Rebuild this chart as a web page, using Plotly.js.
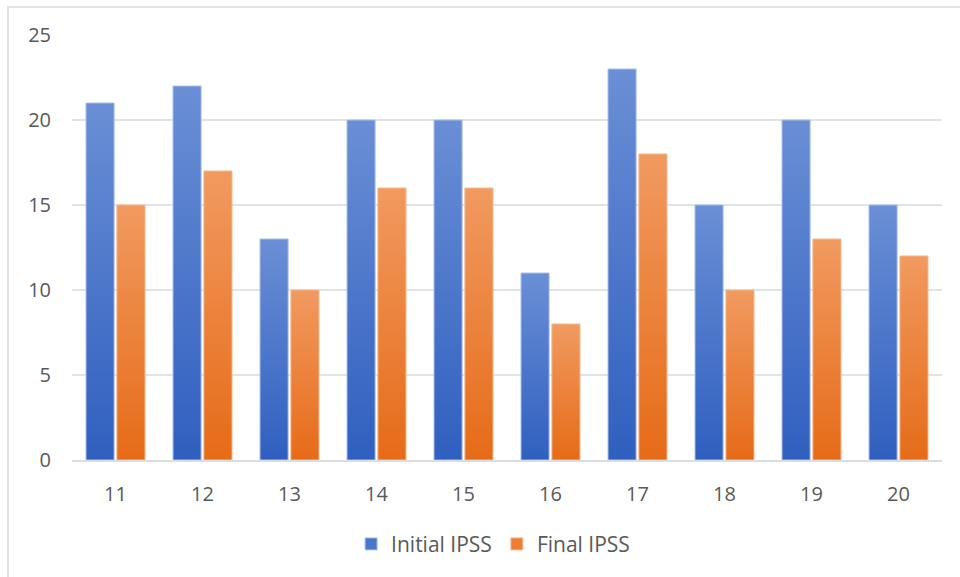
<!DOCTYPE html>
<html>
<head>
<meta charset="utf-8">
<script src="https://cdn.plot.ly/plotly-3.0.1.min.js"></script>
<style>
  html, body { margin: 0; padding: 0; background: #ffffff; }
  #frame { position: absolute; left: 7px; top: 6px; width: 953px; height: 571px;
           border-left: 2px solid #dfe3ea; border-top: 2px solid #dfe3ea; box-sizing: border-box; }
  #chart { position: absolute; left: 0; top: 0; width: 960px; height: 577px; }
</style>
</head>
<body>
<div id="frame"></div>
<div id="chart"></div>
<script>
const categories = ["11", "12", "13", "14", "15", "16", "17", "18", "19", "20"];
const initialIPSS = [21, 22, 13, 20, 20, 11, 23, 15, 20, 15];
const finalIPSS = [15, 17, 10, 16, 16, 8, 18, 10, 13, 12];

const traces = [
  { type: "bar", name: "Initial IPSS", x: categories, y: initialIPSS,
    marker: { color: "#4a77c9", line: { color: "#a9c0ea", width: 1 } }, hoverinfo: "y" },
  { type: "bar", name: "Final IPSS", x: categories, y: finalIPSS,
    marker: { color: "#ec7f35", line: { color: "#f7b98c", width: 1 } }, hoverinfo: "y" }
];

const font = { family: "Open Sans, Noto Sans, sans-serif", size: 20, color: "#595959" };
const legendFont = { family: "Open Sans, Noto Sans, sans-serif", size: 21, color: "#595959" };

const layout = {
  width: 960, height: 577,
  paper_bgcolor: "rgba(0,0,0,0)", plot_bgcolor: "rgba(0,0,0,0)",
  margin: { l: 72, r: 18, t: 35, b: 117 },
  font: font,
  barmode: "group", bargap: 0.29, bargroupgap: 0.09,
  xaxis: { type: "category", showgrid: false, showline: true, linecolor: "#d9dde4", linewidth: 2,
           ticks: "", ticklabelstandoff: 15, tickfont: font, zeroline: false },
  yaxis: { range: [0, 25], tickvals: [0, 5, 10, 15, 20, 25], showgrid: true, gridcolor: "#dfe3ea",
           gridwidth: 2, zeroline: false, showline: false, ticks: "", ticklabelstandoff: 20, tickfont: font },
  showlegend: true,
  legend: { orientation: "h", x: 0.484, xanchor: "center", y: -0.15, yanchor: "top",
            font: legendFont, itemwidth: 30, traceorder: "normal" }
};

Plotly.newPlot("chart", traces, layout, { displayModeBar: false, staticPlot: true }).then(function (gd) {
  const svg = gd.querySelector("svg.main-svg");
  const ns = "http://www.w3.org/2000/svg";
  let defs = svg.querySelector("defs");
  if (!defs) { defs = document.createElementNS(ns, "defs"); svg.insertBefore(defs, svg.firstChild); }
  function grad(id, top, bottom) {
    const g = document.createElementNS(ns, "linearGradient");
    g.setAttribute("id", id); g.setAttribute("x1", "0"); g.setAttribute("y1", "0");
    g.setAttribute("x2", "0"); g.setAttribute("y2", "1");
    const s1 = document.createElementNS(ns, "stop"); s1.setAttribute("offset", "0"); s1.setAttribute("stop-color", top);
    const s2 = document.createElementNS(ns, "stop"); s2.setAttribute("offset", "1"); s2.setAttribute("stop-color", bottom);
    g.appendChild(s1); g.appendChild(s2); defs.appendChild(g);
  }
  grad("gBlue", "#6b8fd6", "#2f5fbf");
  grad("gOrange", "#f19a60", "#e66b18");
  const ids = ["gBlue", "gOrange"];
  gd.querySelectorAll(".barlayer .trace.bars").forEach(function (tr, i) {
    tr.querySelectorAll("path").forEach(function (p) { p.style.fill = "url(#" + ids[i] + ")"; });
  });
});
</script>
</body>
</html>
